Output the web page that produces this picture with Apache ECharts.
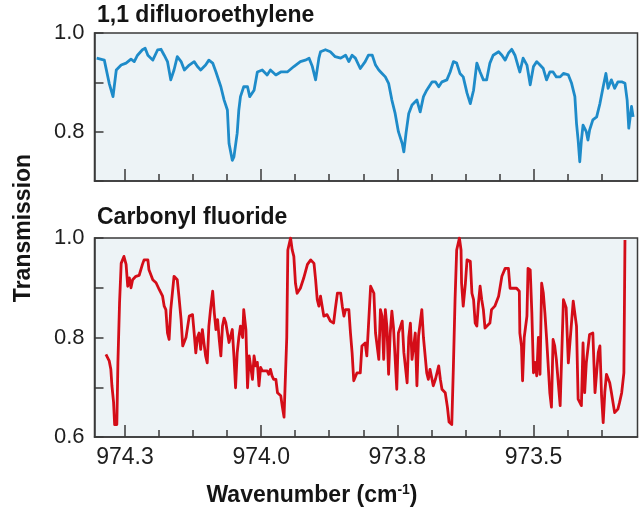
<!DOCTYPE html>
<html><head><meta charset="utf-8">
<script src="https://cdn.jsdelivr.net/npm/echarts@6/dist/echarts.min.js"></script>
<style>html,body{margin:0;padding:0;background:#fff}#c{width:640px;height:530px}</style>
</head><body><div id="c"></div>
<script>
const panelTitles = ['1,1 difluoroethylene', 'Carbonyl fluoride'];
const yAxisTitle = 'Transmission';
const xLabelValues = [974.25, 974.0, 973.75, 973.5];
const xMinorValues = [974.25, 974.1875, 974.125, 974.0625, 974.0, 973.9375, 973.875, 973.8125, 973.75, 973.6875, 973.625, 973.5625, 973.5, 973.4375, 973.375];
const topLabelled = [1.0, 0.8];
const bottomLabelled = [1.0, 0.8, 0.6];

const wnBlue = [974.302, 974.288, 974.279, 974.272, 974.266, 974.257, 974.248, 974.239, 974.233, 974.227,
974.218, 974.213, 974.208, 974.199, 974.190, 974.184, 974.178, 974.172, 974.166, 974.160,
974.154, 974.147, 974.141, 974.132, 974.123, 974.117, 974.111, 974.102, 974.096, 974.089,
974.083, 974.074, 974.068, 974.062, 974.059, 974.053, 974.050, 974.044, 974.041, 974.038,
974.032, 974.025, 974.021, 974.013, 974.007, 973.998, 973.989, 973.983, 973.973, 973.964,
973.952, 973.940, 973.928, 973.919, 973.912, 973.906, 973.900, 973.894, 973.891, 973.882,
973.873, 973.864, 973.854, 973.845, 973.839, 973.833, 973.827, 973.818, 973.809, 973.803,
973.796, 973.790, 973.784, 973.778, 973.772, 973.766, 973.760, 973.754, 973.748, 973.741,
973.738, 973.734, 973.729, 973.723, 973.714, 973.708, 973.702, 973.696, 973.686, 973.680,
973.674, 973.668, 973.659, 973.653, 973.647, 973.641, 973.635, 973.629, 973.622, 973.616,
973.610, 973.604, 973.598, 973.592, 973.586, 973.580, 973.574, 973.564, 973.558, 973.552,
973.546, 973.540, 973.534, 973.528, 973.525, 973.519, 973.512, 973.506, 973.500, 973.494,
973.488, 973.482, 973.476, 973.470, 973.464, 973.458, 973.451, 973.445, 973.436, 973.430,
973.424, 973.421, 973.418, 973.415, 973.412, 973.409, 973.403, 973.400, 973.397, 973.391,
973.384, 973.378, 973.372, 973.367, 973.363, 973.357, 973.351, 973.345, 973.338, 973.332,
973.328, 973.325, 973.320, 973.317];
const tBlue = [0.949, 0.945, 0.898, 0.871, 0.925, 0.935, 0.939, 0.947, 0.942, 0.955,
0.966, 0.969, 0.955, 0.945, 0.966, 0.967, 0.955, 0.942, 0.905, 0.925,
0.952, 0.942, 0.925, 0.935, 0.942, 0.932, 0.925, 0.935, 0.945, 0.939,
0.921, 0.891, 0.864, 0.844, 0.776, 0.742, 0.749, 0.797, 0.844, 0.871,
0.891, 0.891, 0.871, 0.884, 0.921, 0.925, 0.915, 0.925, 0.915, 0.921,
0.921, 0.932, 0.942, 0.945, 0.949, 0.932, 0.905, 0.949, 0.962, 0.966,
0.962, 0.952, 0.949, 0.955, 0.942, 0.955, 0.949, 0.928, 0.942, 0.955,
0.955, 0.935, 0.925, 0.918, 0.911, 0.898, 0.864, 0.837, 0.800, 0.776,
0.759, 0.797, 0.837, 0.854, 0.864, 0.840, 0.871, 0.884, 0.901, 0.901,
0.891, 0.901, 0.905, 0.921, 0.942, 0.939, 0.918, 0.911, 0.878, 0.857,
0.884, 0.939, 0.921, 0.905, 0.905, 0.939, 0.955, 0.962, 0.955, 0.945,
0.959, 0.967, 0.955, 0.932, 0.921, 0.949, 0.935, 0.895, 0.932, 0.942,
0.935, 0.928, 0.905, 0.921, 0.921, 0.911, 0.911, 0.918, 0.915, 0.898,
0.871, 0.817, 0.783, 0.739, 0.783, 0.813, 0.800, 0.783, 0.803, 0.824,
0.830, 0.857, 0.891, 0.918, 0.888, 0.905, 0.888, 0.901, 0.901, 0.898,
0.864, 0.807, 0.851, 0.830];

const wnRed = [974.285, 974.279, 974.276, 974.274, 974.271, 974.269, 974.265, 974.263, 974.260, 974.257,
974.252, 974.248, 974.245, 974.242, 974.239, 974.236, 974.230, 974.224, 974.218, 974.215,
974.208, 974.206, 974.199, 974.193, 974.187, 974.181, 974.178, 974.175, 974.172, 974.169,
974.166, 974.163, 974.160, 974.154, 974.151, 974.147, 974.144, 974.141, 974.138, 974.135,
974.132, 974.126, 974.123, 974.120, 974.117, 974.114, 974.111, 974.108, 974.105, 974.102,
974.099, 974.096, 974.093, 974.089, 974.086, 974.083, 974.080, 974.077, 974.074, 974.071,
974.068, 974.065, 974.062, 974.059, 974.056, 974.053, 974.050, 974.047, 974.044, 974.041,
974.038, 974.034, 974.032, 974.028, 974.025, 974.022, 974.019, 974.016, 974.013, 974.010,
974.007, 974.004, 974.001, 973.998, 973.995, 973.989, 973.986, 973.983, 973.980, 973.977,
973.973, 973.970, 973.964, 973.961, 973.958, 973.955, 973.953, 973.951, 973.946, 973.943,
973.940, 973.937, 973.934, 973.931, 973.928, 973.925, 973.922, 973.915, 973.909, 973.903,
973.900, 973.897, 973.894, 973.891, 973.885, 973.879, 973.873, 973.867, 973.864, 973.860,
973.854, 973.851, 973.848, 973.845, 973.839, 973.836, 973.833, 973.830, 973.824, 973.818,
973.815, 973.809, 973.806, 973.803, 973.799, 973.793, 973.790, 973.784, 973.781, 973.778,
973.775, 973.772, 973.769, 973.766, 973.763, 973.760, 973.757, 973.751, 973.748, 973.741,
973.738, 973.732, 973.729, 973.726, 973.723, 973.717, 973.714, 973.711, 973.705, 973.702,
973.696, 973.693, 973.690, 973.684, 973.680, 973.674, 973.671, 973.668, 973.662, 973.658,
973.655, 973.650, 973.647, 973.644, 973.641, 973.636, 973.633, 973.632, 973.629, 973.625,
973.622, 973.616, 973.613, 973.610, 973.607, 973.604, 973.601, 973.598, 973.595, 973.592,
973.589, 973.586, 973.580, 973.577, 973.571, 973.564, 973.558, 973.552, 973.546, 973.543,
973.537, 973.531, 973.526, 973.525, 973.522, 973.520, 973.517, 973.512, 973.510, 973.506,
973.503, 973.500, 973.497, 973.494, 973.491, 973.488, 973.485, 973.482, 973.479, 973.476,
973.470, 973.467, 973.464, 973.461, 973.458, 973.451, 973.445, 973.440, 973.436, 973.427,
973.421, 973.418, 973.412, 973.409, 973.406, 973.403, 973.397, 973.391, 973.387, 973.381,
973.378, 973.375, 973.372, 973.369, 973.366, 973.360, 973.357, 973.351, 973.345, 973.342,
973.338, 973.334, 973.332];
const tRed = [0.766, 0.753, 0.736, 0.703, 0.670, 0.625, 0.625, 0.750, 0.870, 0.949,
0.963, 0.947, 0.903, 0.920, 0.900, 0.916, 0.923, 0.925, 0.947, 0.956,
0.956, 0.936, 0.916, 0.910, 0.896, 0.883, 0.863, 0.856, 0.809, 0.796,
0.856, 0.889, 0.923, 0.916, 0.883, 0.836, 0.783, 0.783, 0.800, 0.796,
0.843, 0.846, 0.809, 0.769, 0.800, 0.809, 0.776, 0.816, 0.789, 0.763,
0.749, 0.823, 0.856, 0.893, 0.849, 0.816, 0.836, 0.796, 0.763, 0.823,
0.839, 0.830, 0.829, 0.790, 0.789, 0.816, 0.763, 0.699, 0.769, 0.800,
0.823, 0.800, 0.856, 0.816, 0.699, 0.763, 0.759, 0.716, 0.763, 0.743,
0.750, 0.703, 0.740, 0.733, 0.729, 0.733, 0.726, 0.736, 0.723, 0.716,
0.716, 0.689, 0.683, 0.660, 0.640, 0.640, 0.800, 0.976, 1.000, 0.976,
0.963, 0.909, 0.889, 0.886, 0.899, 0.909, 0.919, 0.947, 0.956, 0.949,
0.916, 0.876, 0.863, 0.883, 0.843, 0.846, 0.833, 0.829, 0.856, 0.889,
0.889, 0.863, 0.843, 0.856, 0.856, 0.809, 0.769, 0.713, 0.729, 0.729,
0.783, 0.789, 0.763, 0.823, 0.903, 0.889, 0.809, 0.756, 0.856, 0.843,
0.756, 0.856, 0.820, 0.726, 0.809, 0.853, 0.820, 0.696, 0.809, 0.833,
0.770, 0.709, 0.800, 0.829, 0.756, 0.809, 0.703, 0.803, 0.856, 0.800,
0.729, 0.716, 0.736, 0.703, 0.716, 0.743, 0.716, 0.696, 0.689, 0.660,
0.630, 0.625, 0.743, 0.876, 0.976, 1.000, 0.976, 0.909, 0.863, 0.909,
0.956, 0.953, 0.889, 0.876, 0.829, 0.823, 0.869, 0.903, 0.876, 0.856,
0.819, 0.819, 0.829, 0.856, 0.863, 0.883, 0.923, 0.939, 0.939, 0.899,
0.899, 0.899, 0.893, 0.809, 0.783, 0.713, 0.800, 0.843, 0.939, 0.936,
0.850, 0.729, 0.750, 0.723, 0.800, 0.726, 0.909, 0.890, 0.849, 0.800,
0.689, 0.660, 0.796, 0.783, 0.756, 0.663, 0.876, 0.860, 0.749, 0.873,
0.823, 0.676, 0.663, 0.789, 0.689, 0.749, 0.806, 0.809, 0.689, 0.770,
0.783, 0.683, 0.629, 0.690, 0.726, 0.709, 0.690, 0.649, 0.656, 0.669,
0.689, 0.729, 0.996];

const FONT = '"Liberation Sans", Arial, Helvetica, sans-serif';
const AX = '#3a3a3a';
const X_MIN = 973.309, X_MAX = 974.306;

function pairs(xs, ys) { return xs.map((x, i) => [x, ys[i]]); }

function xMain(gi, showLabels) {
  return {
    type: 'value', gridIndex: gi, position: 'bottom', min: X_MIN, max: X_MAX, inverse: true,
    axisLine: { show: true, onZero: false, lineStyle: { color: AX, width: 1.5 } },
    axisTick: { show: true, inside: true, length: 7, customValues: xMinorValues, lineStyle: { color: AX, width: 1.5 } },
    axisLabel: { show: showLabels, customValues: xLabelValues, formatter: v => v.toFixed(1),
      fontFamily: FONT, fontSize: 23, color: '#1e1e1e', margin: 9 },
    splitLine: { show: false }
  };
}
function xMajor(gi) {
  return {
    type: 'value', gridIndex: gi, position: 'bottom', offset: 0, min: X_MIN, max: X_MAX, inverse: true,
    axisLine: { show: false },
    axisTick: { show: true, inside: true, length: 12, customValues: xLabelValues, lineStyle: { color: AX, width: 1.5 } },
    axisLabel: { show: false },
    splitLine: { show: false }
  };
}
function yAx(gi, min, labelled) {
  return {
    type: 'value', gridIndex: gi, min: min, max: 1.0, interval: 0.1,
    axisLine: { show: true, onZero: false, lineStyle: { color: AX, width: 1.5 } },
    axisTick: { show: true, inside: true, length: 9, lineStyle: { color: AX, width: 1.5 } },
    axisLabel: { fontFamily: FONT, fontSize: 22, color: '#1e1e1e', margin: 10,
      formatter: v => labelled.some(l => Math.abs(l - v) < 1e-6) ? v.toFixed(1) : '' },
    splitLine: { show: false }
  };
}

const chart = echarts.init(document.getElementById('c'), null, { renderer: 'canvas' });
chart.setOption({
  animation: false,
  backgroundColor: '#ffffff',
  title: [
    { text: panelTitles[0], left: 97, top: 4, padding: 0,
      textStyle: { fontFamily: FONT, fontSize: 23, fontWeight: 'bold', color: '#151515' } },
    { text: panelTitles[1], left: 97, top: 206, padding: 0,
      textStyle: { fontFamily: FONT, fontSize: 23, fontWeight: 'bold', color: '#151515' } }
  ],
  grid: [
    { left: 94.5, top: 33, width: 543, height: 148, show: true, backgroundColor: '#edf3f6', borderColor: AX, borderWidth: 1.5 },
    { left: 94.5, top: 238, width: 543, height: 199, show: true, backgroundColor: '#edf3f6', borderColor: AX, borderWidth: 1.5 }
  ],
  xAxis: [xMain(0, false), xMajor(0), xMain(1, true), xMajor(1)],
  yAxis: [yAx(0, 0.7, topLabelled), yAx(1, 0.6, bottomLabelled)],
  series: [
    { type: 'line', xAxisIndex: 0, yAxisIndex: 0, data: pairs(wnBlue, tBlue), showSymbol: false,
      lineStyle: { color: '#1e8bc9', width: 2.8, join: 'round' }, silent: true },
    { type: 'line', xAxisIndex: 2, yAxisIndex: 1, data: pairs(wnRed, tRed), showSymbol: false,
      lineStyle: { color: '#d40d18', width: 2.8, join: 'round' }, silent: true }
  ],
  graphic: [
    { type: 'text', x: 24, y: 228, rotation: Math.PI / 2,
      style: { text: yAxisTitle, font: 'bold 23px ' + FONT, fill: '#151515', align: 'center', verticalAlign: 'middle' } },
    { type: 'text', x: 312, y: 496,
      style: { text: '{a|Wavenumber (cm}{s|-1}{a|)}', align: 'center', verticalAlign: 'middle',
        rich: {
          a: { fontFamily: FONT, fontSize: 23, fontWeight: 'bold', fill: '#151515', lineHeight: 26 },
          s: { fontFamily: FONT, fontSize: 14, fontWeight: 'bold', fill: '#151515', verticalAlign: 'top', lineHeight: 26 }
        } } }
  ]
});
</script>
</body></html>
